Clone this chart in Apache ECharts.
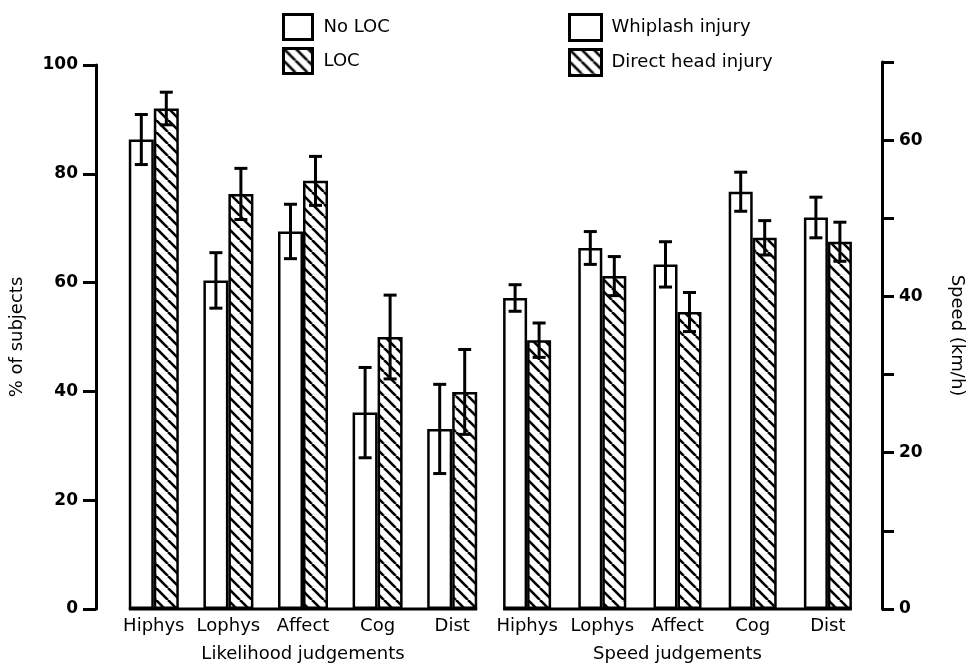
<!DOCTYPE html>
<html>
<head>
<meta charset="utf-8">
<script src="https://cdn.jsdelivr.net/npm/echarts@6/dist/echarts.min.js"></script>
<style>html,body{margin:0;padding:0;background:#fff;}#c{width:970px;height:668px;}</style>
</head>
<body>
<div id="c"></div>
<script>
var categories = ['Hiphys', 'Lophys', 'Affect', 'Cog', 'Dist'];
// Likelihood judgements (% of subjects)
var noLoc = [86.3, 60.4, 69.4, 36.1, 33.1];
var noLocErr = [4.6, 5.1, 5.0, 8.3, 8.2];
var loc = [92.0, 76.3, 78.7, 50.0, 39.9];
var locErr = [3.0, 4.7, 4.5, 7.7, 7.8];
// Speed judgements (km/h)
var whiplash = [39.8, 46.2, 44.1, 53.4, 50.1];
var whiplashErr = [1.7, 2.1, 2.9, 2.5, 2.6];
var direct = [34.4, 42.6, 38.0, 47.5, 47.0];
var directErr = [2.2, 2.5, 2.5, 2.2, 2.5];
var leftTicks = [0, 20, 40, 60, 80, 100];
var rightTickLabels = [0, 20, 40, 60];

function hatch() {
  var s = 12;
  var c = document.createElement('canvas');
  c.width = s; c.height = s;
  var g = c.getContext('2d');
  g.fillStyle = '#fff'; g.fillRect(0, 0, s, s);
  g.strokeStyle = '#000'; g.lineWidth = 2.6;
  [-s, 0, s].forEach(function (k) {
    g.beginPath(); g.moveTo(k, 0); g.lineTo(k + s, s); g.stroke();
  });
  return { image: c, repeat: 'repeat' };
}
var hatchFill = hatch();

function errData(vals, errs) {
  return vals.map(function (v, i) { return [i, v - errs[i], v + errs[i]]; });
}
function errSeries(xi, vals, errs, shift) {
  return {
    type: 'custom', xAxisIndex: xi, yAxisIndex: xi, z: 5, silent: true,
    encode: { x: 0, y: [1, 2] },
    data: errData(vals, errs),
    renderItem: function (params, api) {
      var top = api.coord([api.value(0), api.value(2)]);
      var bot = api.coord([api.value(0), api.value(1)]);
      var cx = top[0] + shift;
      var cap = 6.5;
      var st = { stroke: '#000', lineWidth: 3 };
      return { type: 'group', children: [
        { type: 'line', shape: { x1: cx, y1: top[1], x2: cx, y2: bot[1] }, style: st },
        { type: 'line', shape: { x1: cx - cap, y1: top[1], x2: cx + cap, y2: top[1] }, style: st },
        { type: 'line', shape: { x1: cx - cap, y1: bot[1], x2: cx + cap, y2: bot[1] }, style: st }
      ]};
    }
  };
}
// baseline spanning from the first bar's left edge to the last bar's right edge
function baseSeries(xi, halfPair) {
  return {
    type: 'custom', xAxisIndex: xi, yAxisIndex: xi, z: 6, silent: true, clip: false,
    encode: { x: [0, 1], y: 2 },
    data: [[0, categories.length - 1, 0]],
    renderItem: function (params, api) {
      var a = api.coord([api.value(0), api.value(2)]);
      var b = api.coord([api.value(1), api.value(2)]);
      return { type: 'line', shape: { x1: a[0] - halfPair, y1: a[1], x2: b[0] + halfPair, y2: b[1] },
        style: { stroke: '#000', lineWidth: 3 } };
    }
  };
}

var font = 'DejaVu Sans';
var axisLineStyle = { color: '#000', width: 3 };
function xAx(gi, name) {
  return {
    type: 'category', gridIndex: gi, data: categories,
    axisLine: { show: false }, axisTick: { show: false },
    axisLabel: { color: '#000', fontSize: 18, fontFamily: font, margin: 8, interval: 0 },
    name: name, nameLocation: 'middle', nameGap: 36,
    nameTextStyle: { color: '#000', fontSize: 18, fontFamily: font }
  };
}

var option = {
  animation: false,
  textStyle: { fontFamily: font },
  grid: [
    { left: 116.5, width: 373, top: 65, height: 546 },
    { left: 489.5, width: 376, top: 62, height: 548.5 }
  ],
  legend: [
    { data: ['No LOC', 'LOC'], left: 277, top: 8, orient: 'vertical', itemWidth: 29, itemHeight: 25, itemGap: 6,
      selectedMode: false, icon: 'rect', itemStyle: { borderColor: '#000', borderWidth: 3 },
      textStyle: { color: '#000', fontSize: 18, fontFamily: font, padding: [0, 0, 0, 6] } },
    { data: ['Whiplash injury', 'Direct head injury'], left: 563, top: 8, orient: 'vertical', itemWidth: 32, itemHeight: 26, itemGap: 6,
      selectedMode: false, icon: 'rect', itemStyle: { borderColor: '#000', borderWidth: 3 },
      textStyle: { color: '#000', fontSize: 18, fontFamily: font, padding: [0, 0, 0, 5] } }
  ],
  xAxis: [xAx(0, 'Likelihood judgements'), xAx(1, 'Speed judgements')],
  yAxis: [
    { type: 'value', gridIndex: 0, min: leftTicks[0], max: leftTicks[leftTicks.length - 1], interval: 20,
      position: 'left', offset: 20.5, splitLine: { show: false },
      axisLine: { show: true, lineStyle: axisLineStyle },
      axisTick: { show: true, length: 13, lineStyle: { width: 3, color: '#000' } },
      axisLabel: { color: '#000', fontSize: 17, fontWeight: 'bold', fontFamily: font, margin: 18 },
      name: '% of subjects', nameLocation: 'middle', nameGap: 70,
      nameTextStyle: { color: '#000', fontSize: 18, fontFamily: font } },
    { type: 'value', gridIndex: 1, min: 0, max: 70, interval: 10,
      position: 'right', offset: 16.5, splitLine: { show: false },
      axisLine: { show: true, lineStyle: axisLineStyle },
      axisTick: { show: true, length: 12, lineStyle: { width: 3, color: '#000' } },
      axisLabel: { color: '#000', fontSize: 17, fontWeight: 'bold', fontFamily: font, margin: 17,
        formatter: function (v) { return rightTickLabels.indexOf(v) >= 0 ? String(v) : ''; } },
      name: 'Speed (km/h)', nameLocation: 'middle', nameGap: 66, nameRotate: -90,
      nameTextStyle: { color: '#000', fontSize: 18, fontFamily: font } }
  ],
  series: [
    { name: 'No LOC', type: 'bar', xAxisIndex: 0, yAxisIndex: 0, data: noLoc, barWidth: 25, barGap: '0%',
      itemStyle: { color: '#fff', borderColor: '#000', borderWidth: 2.5 } },
    { name: 'LOC', type: 'bar', xAxisIndex: 0, yAxisIndex: 0, data: loc, barWidth: 25, barGap: '0%',
      itemStyle: { color: hatchFill, borderColor: '#000', borderWidth: 2.5 } },
    { name: 'Whiplash injury', type: 'bar', xAxisIndex: 1, yAxisIndex: 1, data: whiplash, barWidth: 24, barGap: '0%',
      itemStyle: { color: '#fff', borderColor: '#000', borderWidth: 2.5 } },
    { name: 'Direct head injury', type: 'bar', xAxisIndex: 1, yAxisIndex: 1, data: direct, barWidth: 24, barGap: '0%',
      itemStyle: { color: hatchFill, borderColor: '#000', borderWidth: 2.5 } },
    errSeries(0, noLoc, noLocErr, -12.5),
    errSeries(0, loc, locErr, 12.5),
    errSeries(1, whiplash, whiplashErr, -12),
    errSeries(1, direct, directErr, 12),
    baseSeries(0, 25),
    baseSeries(1, 24)
  ]
};
var chart = echarts.init(document.getElementById('c'), null, { renderer: 'canvas' });
chart.setOption(option);
</script>
</body>
</html>
